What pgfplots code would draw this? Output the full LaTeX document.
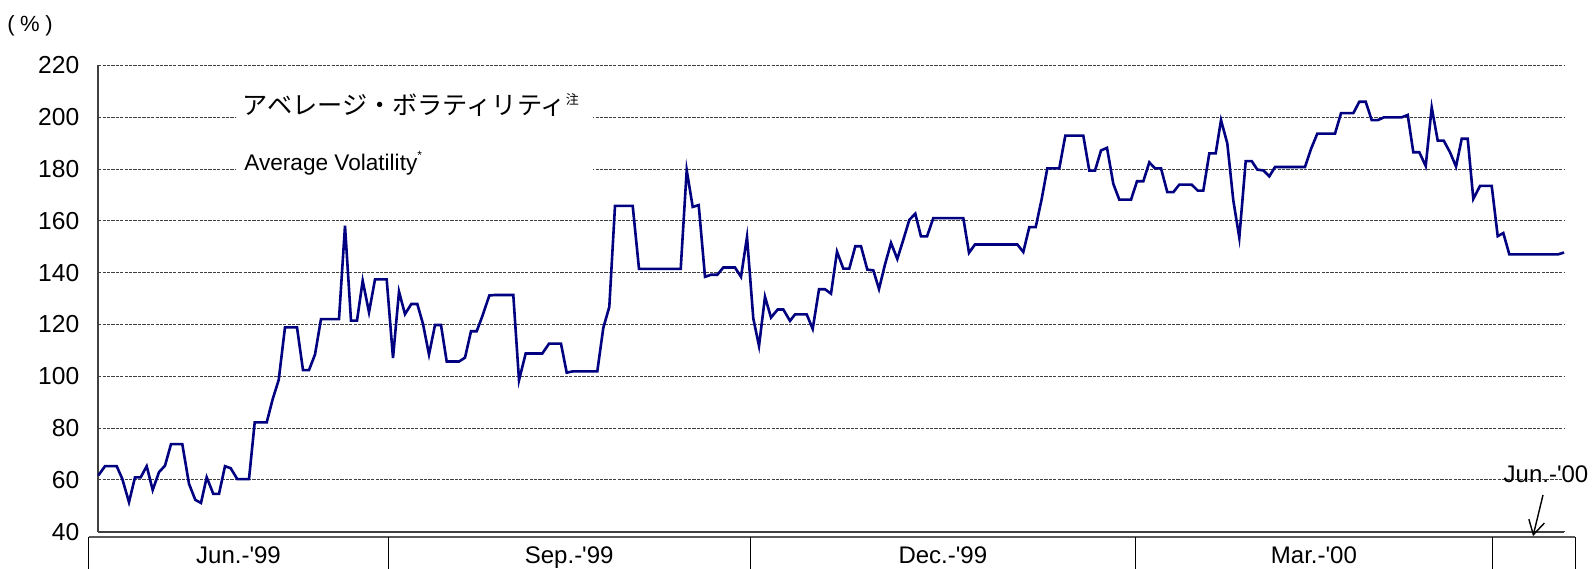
\documentclass[border=0pt]{standalone}
\usepackage{pgfplots}
\pgfplotsset{compat=1.18}
\usepackage{fontspec}
\setmainfont{Liberation Sans}
\newfontfamily\cjk{Noto Sans CJK JP}
\usetikzlibrary{arrows.meta}
\definecolor{navyline}{RGB}{0,0,128}
\begin{document}
\begin{tikzpicture}
\begin{axis}[
  at={(0,0)}, anchor=south west,
  scale only axis, width=732.85pt, height=233.1pt,
  xmin=98.3, xmax=1564, ymin=40, ymax=220,
  axis x line*=bottom, axis y line*=left,
  axis line style={-, black!75, line width=0.8pt},
  xtick=\empty,
  ytick={40,60,...,220},
  major tick length=0pt,
  ymajorgrids,
  grid style={black!75, line width=0.5pt, dash pattern=on 1.6pt off 0.6pt},
  /pgf/number format/assume math mode=true,
  yticklabel style={font=\fontsize{12.3}{14}\selectfont, xshift=-6pt},
  clip=false,
]
\addplot[navyline, line width=1.3pt] table {
x y
98.3 61.7
105 65.3
116.7 65.3
122.3 60.4
129 51.4
135 61
140.7 61
146.7 65.3
152.7 56.1
159 63
165 65.5
171 73.8
182.3 73.8
189 58.5
195.3 52.3
201 51.1
206.7 61
213.3 54.6
219 54.6
225 65.3
230.7 64.5
237.3 60.3
249 60.3
254.7 82.2
266.7 82.2
272.7 91.2
278.7 98.6
285 118.9
297 118.9
303 102.4
309 102.4
315 108.4
321 122.1
339 122.1
345 158.1
351 121.5
357 121.5
362.7 136.9
369 124.7
375 137.4
386.7 137.4
393 107.1
399 132.7
405 124
411.3 127.9
417.3 127.9
423 120.2
429 108.4
435 119.8
441 119.8
446.7 105.7
459 105.7
465 107.2
471 117.4
476.7 117.4
482.7 123.6
489.3 131.2
495 131.4
513.3 131.4
519 98.5
525.7 108.8
542.3 108.8
549 112.6
561 112.6
566.7 101.4
572.7 101.9
597.3 101.9
603.3 118.7
609.3 126.8
615 165.8
632.7 165.8
639 141.5
680.7 141.5
686.7 179.6
692.7 165.4
698.7 166.1
705 138.4
711 139.2
717.3 139.2
723.3 142
735 142
741 138.4
747 153.8
753.3 122.3
759 111.7
765 130.7
771 122.7
777.7 125.8
783.3 125.8
790 121.4
795 123.9
806.7 123.9
812.7 118.3
819 133.6
825 133.6
831 131.9
837 148.1
843.3 141.6
849.3 141.6
855.3 150.2
861 150.2
867.3 141.2
873.3 140.9
879 133.7
885 143.2
891 151.5
897.3 145.3
903.3 152.7
909.3 160.4
915.3 162.8
921 154
927 154
933.3 161.1
963.3 161.1
969 147.7
975 150.9
1017.3 150.9
1023.3 148
1029.3 157.6
1035.7 157.6
1041.7 168.5
1047.3 180.3
1059.3 180.3
1065.3 192.9
1083.3 192.9
1089.3 179.4
1095 179.4
1101 187.2
1107 188.2
1113.3 174.3
1119.3 168.2
1131 168.2
1137 175.3
1143.3 175.3
1149.3 182.6
1155 180.3
1161 180.3
1167.3 171.1
1173.3 171.1
1179.3 174
1191.7 174
1197.7 171.7
1203.3 171.7
1209.3 186.1
1215.7 186.1
1221 198.9
1227.3 189.9
1233.3 167.9
1239.3 153.5
1245.7 183.1
1251.7 183.1
1257.3 179.8
1263.3 179.5
1269.3 177.2
1275 180.8
1305 180.8
1311 187.8
1317.3 193.7
1335 193.7
1341 201.6
1353.3 201.6
1359.3 206
1365.7 206
1371.7 198.9
1377.7 198.9
1384 200
1401.7 200
1407.7 200.9
1413.3 186.5
1419.3 186.5
1425.7 181.2
1431.7 203.8
1437.7 191
1443.7 191
1450 186.5
1456 181
1461.7 191.7
1467.7 191.7
1473.3 168.5
1480 173.5
1491.7 173.5
1497.7 154.1
1503.3 155.3
1509.3 147.1
1558.3 147.1
1564 147.8
};
% annotation background
\fill[white] (axis cs:236,178.3) rectangle (axis cs:593,212);
\node[anchor=west, inner sep=0pt, font=\cjk\fontsize{12.6}{14}\selectfont] at (axis cs:242,204.8)
  {アベレージ・ボラティリティ\raisebox{0.75ex}{\fontsize{6.5}{7}\selectfont 注}};
\node[anchor=base west, inner sep=0pt, font=\fontsize{11.3}{13}\selectfont] at (axis cs:244,179.6)
  {Average Volatility\raisebox{0.9ex}{\fontsize{6}{7}\selectfont *}};
% unit
\node[font=\fontsize{11}{12}\selectfont] at (axis cs:30,235.4) {(\hspace{0.25em}\%\hspace{0.25em})};
% category boxes
\draw[black!65, line width=0.9pt] (axis cs:88.8,38.07) -- (axis cs:1575,38.07);
\pgfplotsinvokeforeach{88.8,388.3,750.2,1135.5,1492.3,1575}{
  \draw[black, line width=0.5pt] (axis cs:#1,38.07) -- (axis cs:#1,20);
}
\node[anchor=base, font=\fontsize{12}{14}\selectfont] at (axis cs:238.5,27.6) {Jun.-\textquotesingle 99};
\node[anchor=base, font=\fontsize{12}{14}\selectfont] at (axis cs:569.2,27.6) {Sep.-\textquotesingle 99};
\node[anchor=base, font=\fontsize{12}{14}\selectfont] at (axis cs:942.8,27.6) {Dec.-\textquotesingle 99};
\node[anchor=base, font=\fontsize{12}{14}\selectfont] at (axis cs:1313.9,27.6) {Mar.-\textquotesingle 00};
% Jun.-'00 annotation
\node[font=\fontsize{12}{14}\selectfont] at (axis cs:1546,62.2) {Jun.-\textquotesingle 00};
\draw[black, line width=0.7pt, -{Straight Barb[length=7pt,width=8pt]}] (axis cs:1543,54.2) -- (axis cs:1533,38.3);
\end{axis}
\pgfresetboundingbox
\path[use as bounding box] (-49.15pt,-18.15pt) rectangle (747.85pt,265.85pt);
\end{tikzpicture}
\end{document}
